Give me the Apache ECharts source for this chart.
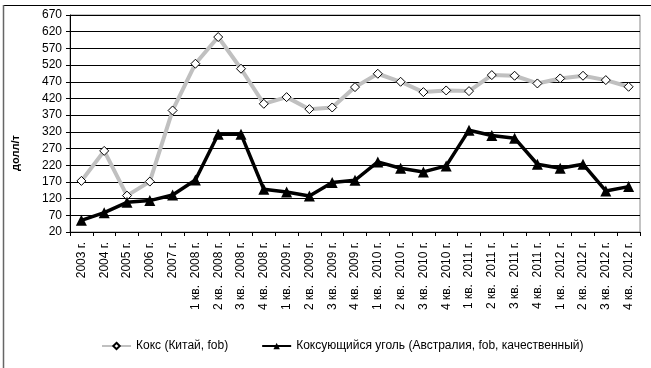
<!DOCTYPE html>
<html>
<head>
<meta charset="utf-8">
<script src="https://cdn.jsdelivr.net/npm/echarts@6/dist/echarts.min.js"></script>
<style>
  html, body { margin: 0; padding: 0; background: #fff; }
  #chart { width: 651px; height: 368px; }
</style>
</head>
<body>
<div id="chart"></div>
<script>
// Periods: yearly averages, then quarters
const categories = [
  '2003 г.', '2004 г.', '2005 г.', '2006 г.', '2007 г.',
  '1 кв.  2008 г.', '2 кв.  2008 г.', '3 кв.  2008 г.', '4 кв.  2008 г.',
  '1 кв.  2009 г.', '2 кв.  2009 г.', '3 кв.  2009 г.', '4 кв.  2009 г.',
  '1 кв.  2010 г.', '2 кв.  2010 г.', '3 кв.  2010 г.', '4 кв.  2010 г.',
  '1 кв.  2011 г.', '2 кв.  2011 г.', '3 кв.  2011 г.', '4 кв.  2011 г.',
  '1 кв.  2012 г.', '2 кв.  2012 г.', '3 кв.  2012 г.', '4 кв.  2012 г.'
];

// Coke, China, FOB (USD/t)
const cokeChina = [
  173, 263, 129, 171, 384,
  524, 604, 509, 404,
  424, 388, 393, 454,
  494, 470, 439, 444,
  442, 490, 488, 465,
  480, 488, 475, 455
];

// Coking coal, Australia, FOB, premium (USD/t)
const coalAustralia = [
  55, 78, 109, 114, 131,
  176, 313, 313, 148,
  140, 128, 168, 175,
  230, 211, 200, 218,
  325, 309, 301, 223,
  211, 223, 143, 156
];

// Value axis ticks
const yMin = 20, yMax = 670, yStep = 50;

const seriesNames = ['Кокс (Китай, fob)', 'Коксующийся уголь (Австралия, fob, качественный)'];
const yTitle = 'долл/т';

const font = 'Liberation Sans, Arial, sans-serif';
const chart = echarts.init(document.getElementById('chart'), null, { renderer: 'canvas' });

chart.setOption({
  animation: false,
  backgroundColor: '#fff',
  textStyle: { fontFamily: font },
  graphic: [
    // outer frame (top and left edges)
    { type: 'line', shape: { x1: 3, y1: 5.5, x2: 651, y2: 5.5 }, style: { stroke: '#000', lineWidth: 1 } },
    { type: 'line', shape: { x1: 3.5, y1: 5, x2: 3.5, y2: 368 }, style: { stroke: '#666', lineWidth: 1.5 } },
    // value-axis title
    {
      type: 'text', x: 16, y: 153, rotation: Math.PI / 2,
      style: {
        text: yTitle, fill: '#000', align: 'center', verticalAlign: 'middle',
        font: 'bold 11px ' + font
      }
    }
  ],
  grid: {
    left: 70, right: 11, top: 15, bottom: 136,
    show: true, borderColor: '#888', borderWidth: 1, backgroundColor: 'transparent'
  },
  legend: {
    left: 96, top: 335,
    itemWidth: 29, itemHeight: 8, itemGap: 33,
    textStyle: { fontFamily: font, fontSize: 12, color: '#000' },
    data: seriesNames
  },
  xAxis: {
    type: 'category',
    data: categories,
    boundaryGap: true,
    axisLine: { lineStyle: { color: '#000', width: 1 } },
    axisTick: { show: true, length: 4, lineStyle: { color: '#000' } },
    axisLabel: { rotate: 90, interval: 0, margin: 10, fontSize: 12, color: '#000', fontFamily: font },
    splitLine: { show: false }
  },
  yAxis: {
    type: 'value',
    min: yMin, max: yMax, interval: yStep,
    axisLine: { show: true, lineStyle: { color: '#000', width: 1 } },
    axisTick: { show: true, length: 4, lineStyle: { color: '#000' } },
    axisLabel: { margin: 8, fontSize: 12, color: '#000', fontFamily: font },
    splitLine: { show: true, lineStyle: { color: '#000', width: 1 } }
  },
  series: [
    {
      name: seriesNames[0],
      type: 'line',
      data: cokeChina,
      symbol: 'diamond',
      symbolSize: 9,
      lineStyle: { color: '#c0c0c0', width: 4 },
      itemStyle: { color: '#fff', borderColor: '#000', borderWidth: 1 },
      z: 3
    },
    {
      name: seriesNames[1],
      type: 'line',
      data: coalAustralia,
      symbol: 'triangle',
      symbolSize: 11,
      lineStyle: { color: '#000', width: 3.5 },
      itemStyle: { color: '#000', borderColor: '#000', borderWidth: 0 },
      z: 4
    }
  ]
});
</script>
</body>
</html>
